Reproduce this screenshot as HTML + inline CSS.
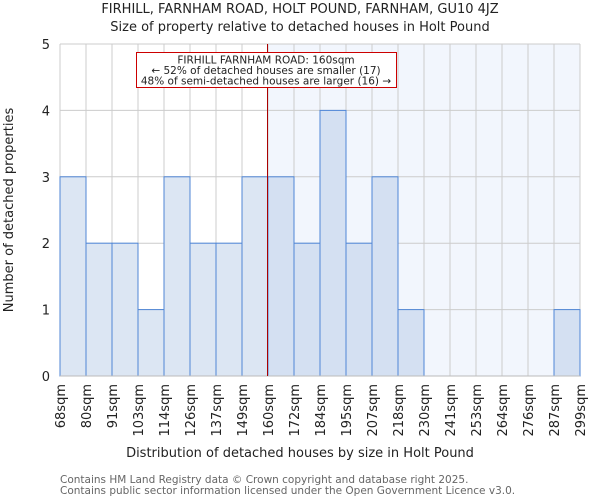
<!DOCTYPE html>
<html><head><meta charset="utf-8"><style>
body{margin:0;background:#fff;font-family:"DejaVu Sans","Liberation Sans",sans-serif}
svg text{font-family:"DejaVu Sans","Liberation Sans",sans-serif}
</style></head><body>
<svg id="c" width="600" height="500" xmlns="http://www.w3.org/2000/svg">
<text x="300" y="13" text-anchor="middle" font-size="13" fill="#222">FIRHILL, FARNHAM ROAD, HOLT POUND, FARNHAM, GU10 4JZ</text>
<text x="300" y="31" text-anchor="middle" font-size="13" fill="#222">Size of property relative to detached houses in Holt Pound</text>
<g id="plot"></g>
<text x="300" y="457" text-anchor="middle" font-size="13" fill="#222">Distribution of detached houses by size in Holt Pound</text>
<text transform="translate(13,210) rotate(-90)" text-anchor="middle" font-size="13" fill="#222">Number of detached properties</text>
<text x="60" y="483" font-size="10.5" fill="#666">Contains HM Land Registry data © Crown copyright and database right 2025.</text>
<text x="60" y="494" font-size="10.5" fill="#666">Contains public sector information licensed under the Open Government Licence v3.0.</text>
</svg>
<script>
const categories=["68sqm","80sqm","91sqm","103sqm","114sqm","126sqm","137sqm","149sqm","160sqm","172sqm","184sqm","195sqm","207sqm","218sqm","230sqm","241sqm","253sqm","264sqm","276sqm","287sqm","299sqm"];
const counts=[3,2,2,1,3,2,2,3,3,2,4,2,3,1,0,0,0,0,0,1];
const yTicks=[0,1,2,3,4,5];
const markerIndex=8;
const NS="http://www.w3.org/2000/svg";
const X0=60,X1=580,Y0=376,Y1=44,nb=counts.length,bw=(X1-X0)/nb;
const x=i=>X0+i*bw, y=v=>Y0-(v/5)*(Y0-Y1);
const g=document.getElementById('plot');
function el(t,a){const e=document.createElementNS(NS,t);for(const k in a)e.setAttribute(k,a[k]);g.appendChild(e);return e;}
let r=el('rect',{x:x(markerIndex),y:Y1,width:X1-x(markerIndex),height:Y0-Y1,fill:'#f2f6fd'});


for(let i=0;i<=nb;i++){let l=el('line',{x1:x(i),x2:x(i),y1:Y1,y2:Y0,stroke:'#ccc','stroke-width':1});

}
yTicks.forEach(v=>{let l=el('line',{x1:X0,x2:X1,y1:y(v),y2:y(v),stroke:'#ccc','stroke-width':1});


let t=el('text',{x:X0-10,y:y(v)+5,'text-anchor':'end','font-size':13,fill:'#222'});t.textContent=v;

});
counts.forEach((v,i)=>{if(!v)return;let b=el('rect',{x:x(i),y:y(v),width:bw,height:y(0)-y(v),fill:i>=markerIndex?'#d4e0f2':'#dce6f3',stroke:'#4f86d6','stroke-width':1});

});
categories.forEach((c,i)=>{let t=el('text',{transform:`translate(${x(i)+5},384) rotate(-90)`,'text-anchor':'end','font-size':13,fill:'#222'});t.textContent=c;

});
let ax=el('line',{x1:X0,x2:X1,y1:Y0,y2:Y0,stroke:'#bbb','stroke-width':1});


let m=el('line',{x1:x(markerIndex)-0.5,x2:x(markerIndex)-0.5,y1:Y1,y2:Y0,stroke:'#a00','stroke-width':1});


let box=el('rect',{x:136.5,y:52.5,width:260,height:35,fill:'#fff',stroke:'#c00','stroke-width':1});


["FIRHILL FARNHAM ROAD: 160sqm","← 52% of detached houses are smaller (17)","48% of semi-detached houses are larger (16) →"].forEach((s,k)=>{let t=el('text',{x:266,y:63.5+k*10.5,'text-anchor':'middle','font-size':10.5,fill:'#222'});t.textContent=s;

});
</script>
</body></html>
